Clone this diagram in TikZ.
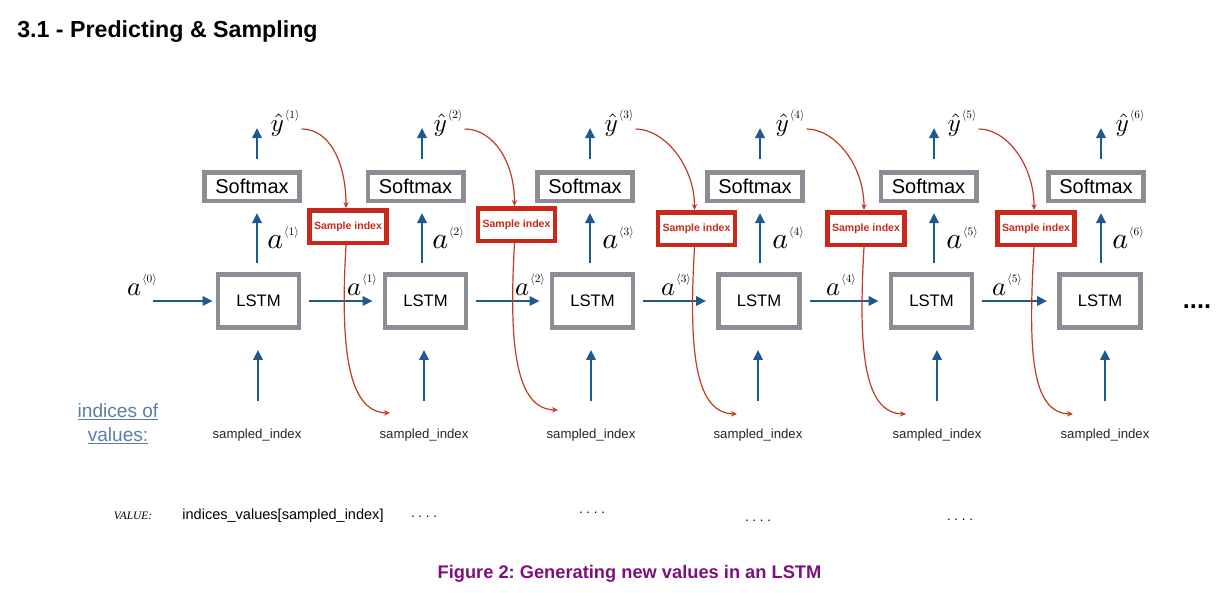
\documentclass[tikz,border=0pt]{standalone}
\usepackage{fontspec}
\setmainfont{Liberation Sans}
\newfontfamily\serifit{Liberation Serif}
\usetikzlibrary{arrows.meta}
\frenchspacing
\definecolor{arrblue}{HTML}{1F5A8E}
\definecolor{boxgray}{HTML}{8A8D93}
\definecolor{sred}{HTML}{C8291A}
\definecolor{cred}{HTML}{C23A22}
\definecolor{idxblue}{HTML}{5A7EA6}
\definecolor{cappurple}{HTML}{7F0F7F}
\newcommand\supidx[1]{\scalebox{0.85}{\normalsize$\langle #1\rangle$}}
\newcommand\hlab[1]{\scalebox{2.0}{\normalsize$a$}\kern0.8pt\raisebox{10pt}{\supidx{#1}}}
\newcommand\vlab[1]{\scalebox{2.25}{\normalsize$a$}\kern0.8pt\raisebox{10pt}{\supidx{#1}}}
\newcommand\ylab[1]{\scalebox{1.9}{\normalsize$\hat{y}$}\kern0.8pt\raisebox{9.5pt}{\supidx{#1}}}
\begin{document}
\begin{tikzpicture}[x=0.75pt,y=-0.75pt,
  lstm/.style={draw=boxgray, line width=3.4pt, minimum width=61pt, minimum height=40pt, inner sep=0pt, font=\fontsize{12.5}{14}\selectfont},
  smax/.style={draw=boxgray, line width=3.4pt, minimum width=71.6pt, minimum height=21.4pt, inner sep=0pt, font=\fontsize{15}{17}\selectfont},
  sbox/.style={draw=sred, line width=3.4pt, minimum width=58pt, minimum height=24.4pt, inner sep=0pt, text=sred, font=\fontsize{7.9}{9}\selectfont\bfseries},
  barrow/.style={draw=arrblue, line width=2.2pt, -{Triangle[length=7.5pt,width=7pt]}},
  rarrow/.style={draw=cred, line width=0.9pt, -{Stealth[length=4.5pt,width=4pt]}},
  lbl/.style={inner sep=0pt},
  idx/.style={inner sep=0pt, font=\fontsize{9.9}{11}\selectfont, text=black!85},
  dots/.style={inner sep=0pt, font=\fontsize{10}{10}\selectfont},
]
\useasboundingbox (0,0) rectangle (1226,592);

% columns
\foreach \k/\lx/\sx/\ux/\bx/\ix in {1/258.5/252/257/258/257, 2/425.5/415.5/422/424/424, 3/592.5/585/590/591/591, 4/759/755/760/758/758, 5/931.5/928.5/934/937/937, 6/1100/1096/1101/1105/1105}{
  \node[lstm] (L\k) at (\lx,301) {LSTM};
  \node[smax] (S\k) at (\sx,186.5) {Softmax};
  \node[idx] (I\k) at (\ix,435) {sampled\_index};
  \coordinate (U\k) at (\ux,128);
  \coordinate (B\k) at (\bx,401);
}

% labels
\foreach \k/\yx/\ax in {1/285/283, 2/448/448, 3/619/618, 4/790/788, 5/962/962, 6/1130/1128}{
  \node[lbl] (Y\k) at (\yx,123) {\ylab{\k}};
  \node[lbl] (AV\k) at (\ax,238) {\vlab{\k}};
}
\foreach \k/\hx in {0/142, 1/362, 2/530, 3/676, 4/841, 5/1007}{
  \node[lbl] (AH\k) at (\hx,285) {\hlab{\k}};
}

% vertical blue arrows
\foreach \k in {1,...,6}{
  \draw[barrow, shorten <=6.75pt, shorten >=7.5pt] (L\k.north -| U\k) -- (S\k.south -| U\k);
  \draw[barrow, shorten <=8.25pt] (S\k.north -| U\k) -- (U\k);
  \draw[barrow, shorten >=15pt] (B\k) -- (L\k.south -| B\k);
}

% horizontal blue arrows
\coordinate (A0) at (153,301);
\draw[barrow, shorten >=2.25pt] (A0) -- (L1.west);
\foreach \k/\n in {1/2, 2/3, 3/4, 4/5, 5/6}{
  \draw[barrow, shorten <=6pt, shorten >=7.5pt] (L\k.east) -- (L\n.west);
}

% sample index boxes
\foreach \k/\xx/\xy/\rx/\ry in {1/348/226.5/390/413, 2/516.5/224.5/558/410, 3/696.5/228.5/737/414, 4/866/228.5/906/414, 5/1036/228.5/1073/414}{
  \node[sbox] (X\k) at (\xx,\xy) {Sample index};
  \coordinate (R\k) at (\rx,\ry);
}

% red curves
\foreach \k in {1,...,5}{
  \draw[rarrow] ([shift={(2,6)}]Y\k.east) .. controls +(28,0) and +(0,-45) .. ([xshift=-1.5pt]X\k.north);
  \draw[rarrow] ([xshift=-1.5pt]X\k.south) .. controls +(-6,104) and +(-42,-1) .. (R\k);
}

% right dots
\node[inner sep=0pt, font=\fontsize{19}{19}\selectfont\bfseries] (more) at (1197,307) {....};

% texts
\node[anchor=west, inner sep=0pt, font=\fontsize{17.4}{20}\selectfont\bfseries] (title) at (17,32) {3.1 - Predicting \& Sampling};
\node[align=center, inner sep=0pt, text=idxblue, font=\fontsize{14.3}{18}\selectfont] (iv) at (118,424) {\underline{indices of}\\\underline{values:}};
\node[inner sep=0pt, font=\serifit\itshape\fontsize{8.5}{9}\selectfont] (vl) at (133,516) {VALUE:};
\node[inner sep=0pt, font=\fontsize{10.9}{12}\selectfont] (ivs) at (283,516) {indices\_values[sampled\_index]};
\node[dots] (d1) at (424,517) {. . . .};
\node[dots] (d2) at (592,513) {. . . .};
\node[dots] (d3) at (758,521) {. . . .};
\node[dots] (d4) at (960,520) {. . . .};
\node[inner sep=0pt, text=cappurple, font=\fontsize{13.7}{16}\selectfont\bfseries] (cap) at (629.5,574) {Figure 2: Generating new values in an LSTM};
\end{tikzpicture}
\end{document}
